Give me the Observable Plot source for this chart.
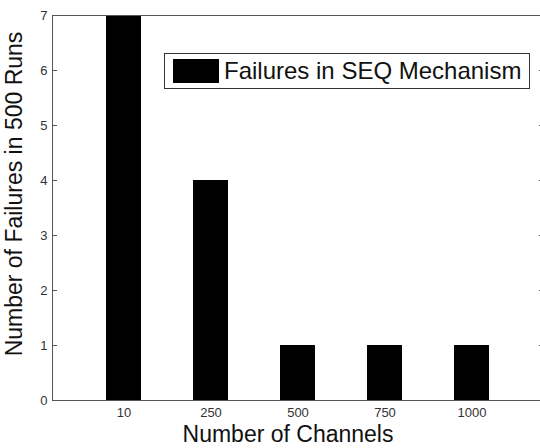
<!DOCTYPE html>
<html>
<head>
<meta charset="utf-8">
<script src="https://cdn.jsdelivr.net/npm/d3@7"></script>
<script src="https://cdn.jsdelivr.net/npm/@observablehq/plot@0.6"></script>
<style>
  html, body { margin: 0; padding: 0; overflow: hidden; background: white; }
  #wrap { position: relative; width: 540px; height: 448px; overflow: hidden; }
  #legend {
    position: absolute; left: 164px; top: 53px; width: 364px; height: 34px;
    border: 1px solid #333; background: white; box-sizing: content-box;
    font-family: "Liberation Sans", Arial, sans-serif; font-size: 24px; color: #111;
  }
  #legend .sw { position: absolute; left: 8px; top: 5px; width: 46px; height: 24px; background: black; }
  #legend .lb { position: absolute; left: 59px; top: 3px; line-height: 28px; white-space: nowrap; }
</style>
</head>
<body>
<div id="wrap">
  <div id="chart"></div>
  <div id="legend"><div class="sw"></div><div class="lb"></div></div>
</div>
<script>
const categories = ["10", "250", "500", "750", "1000"];
const failures = [7, 4, 1, 1, 1];
const yTicks = [0, 1, 2, 3, 4, 5, 6, 7];
const seriesName = "Failures in SEQ Mechanism";
const xTitle = "Number of Channels";
const yTitle = "Number of Failures in 500 Runs";

const data = categories.map((c, i) => ({ch: c, f: failures[i]}));
document.querySelector("#legend .lb").textContent = seriesName;

const axisColor = "#555";
const plot = Plot.plot({
  width: 546,
  height: 448,
  marginLeft: 52,
  marginRight: 3,
  marginTop: 15,
  marginBottom: 48,
  style: {fontFamily: "Liberation Sans, Arial, sans-serif", fontSize: "13px", color: "#333", maxWidth: "none", overflow: "visible", background: "white"},
  x: {type: "band", domain: categories, paddingInner: 0.6, paddingOuter: 0.62, axis: null},
  y: {domain: [0, 7], axis: null},
  marks: [
    Plot.barY(data, {x: "ch", y: "f", fill: "black"}),
    Plot.frame({stroke: axisColor}),
    Plot.axisY(yTicks, {anchor: "left", tickSize: -5, tickPadding: 10, stroke: axisColor, fill: "#333", label: null, fontSize: 13, tickFormat: d => String(d)}),
    Plot.axisY(yTicks, {anchor: "right", tickSize: -5, tickFormat: () => "", stroke: axisColor, label: null}),
    Plot.axisX(categories, {anchor: "bottom", tickSize: 0, tickPadding: 7, fill: "#333", label: null, fontSize: 13}),
    Plot.text([xTitle], {frameAnchor: "bottom", dy: 34, dx: -10, fontSize: 23, fill: "#111", textAnchor: "middle", lineAnchor: "middle"}),
    Plot.text([yTitle], {frameAnchor: "left", dx: -38, dy: -14, rotate: -90, fontSize: 23, fill: "#111", textAnchor: "middle", lineAnchor: "middle"})
  ]
});
document.getElementById("chart").appendChild(plot);
</script>
</body>
</html>
